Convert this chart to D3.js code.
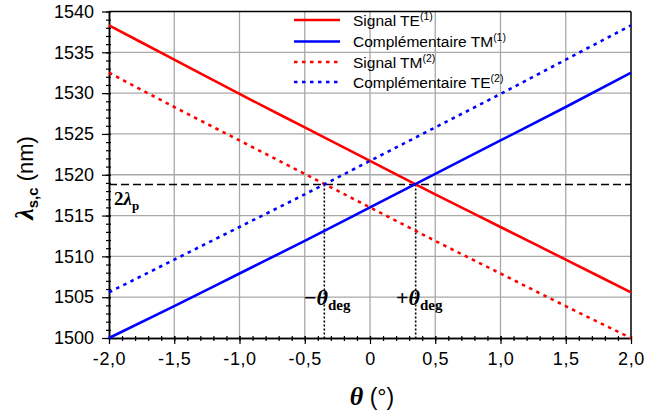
<!DOCTYPE html>
<html><head><meta charset="utf-8">
<script src="https://cdn.jsdelivr.net/npm/d3@7"></script>
<style>body{margin:0;background:#fff}svg{display:block}</style>
</head><body>
<svg id="c" width="646" height="412"></svg>
<script>
const theta = [-2, -1.5, -1, -0.5, 0, 0.5, 1, 1.5, 2];
const signalTE1 = [1538.3, 1534.1, 1529.9, 1525.8, 1521.7, 1517.6, 1513.6, 1509.6, 1505.6];
const complTM1  = [1500.0, 1503.9, 1507.9, 1511.9, 1516.0, 1520.1, 1524.2, 1528.3, 1532.5];
const signalTM2 = [1532.5, 1528.3, 1524.2, 1520.1, 1516.0, 1511.9, 1507.9, 1503.9, 1500.0];
const complTE2  = [1505.6, 1509.6, 1513.6, 1517.6, 1521.7, 1525.8, 1529.9, 1534.1, 1538.3];
const xTicks = [-2, -1.5, -1, -0.5, 0, 0.5, 1, 1.5, 2];
const xTickLabels = ["-2,0", "-1,5", "-1,0", "-0,5", "0", "0,5", "1,0", "1,5", "2,0"];
const yTicks = [1500, 1505, 1510, 1515, 1520, 1525, 1530, 1535, 1540];
const twoLambdaP = 1518.8;
const thetaDeg = 0.35;
const seriesNames = ["Signal TE", "Complémentaire TM", "Signal TM", "Complémentaire TE"];
const seriesSup = ["(1)", "(1)", "(2)", "(2)"];

const svg = d3.select("#c");
const L = 109, R = 631, T = 11.5, B = 338;
const x = d3.scaleLinear().domain([-2, 2]).range([L, R]);
const y = d3.scaleLinear().domain([1500, 1540]).range([B, T]);
const sans = "Liberation Sans, Arial, sans-serif";
const serif = "Liberation Serif, Times New Roman, serif";

// grid
const g = svg.append("g");
g.selectAll(".gx").data(xTicks.slice(1, -1)).join("line")
  .attr("x1", d => x(d)).attr("x2", d => x(d)).attr("y1", T).attr("y2", B)
  .attr("stroke", "#a8a8a8").attr("stroke-width", 1.3);
g.selectAll(".gy").data(yTicks.slice(1, -1)).join("line")
  .attr("y1", d => y(d)).attr("y2", d => y(d)).attr("x1", L).attr("x2", R)
  .attr("stroke", "#a8a8a8").attr("stroke-width", 1.3);

// axes
const fmtX = d => xTickLabels[xTicks.indexOf(d)];
const xAxis = d3.axisBottom(x).tickValues(xTicks).tickFormat(fmtX).tickSizeInner(6).tickSizeOuter(0).tickPadding(8);
const xMinor = d3.axisBottom(x).ticks(40).tickFormat("").tickSizeInner(3).tickSizeOuter(0);
const yAxis = d3.axisLeft(y).tickValues(yTicks).tickFormat(d3.format("d")).tickSizeInner(7).tickSizeOuter(0).tickPadding(8);
const yMinor = d3.axisLeft(y).ticks(40).tickFormat("").tickSizeInner(3).tickSizeOuter(0);

function styleAxis(sel) {
  sel.select(".domain").attr("stroke", "#000").attr("stroke-width", 1.5);
  sel.selectAll(".tick line").attr("stroke", "#000").attr("stroke-width", 1.2);
  sel.selectAll("text").attr("font-family", sans).attr("font-size", 18).attr("fill", "#000");
}
svg.append("g").attr("transform", `translate(0,${B})`).call(xMinor).call(styleAxis)
  .selectAll(".tick line").attr("y1", -2);
const xg = svg.append("g").attr("transform", `translate(0,${B})`).call(xAxis).call(styleAxis);
xg.selectAll(".tick line").attr("y1", -2);
xg.selectAll("text").attr("letter-spacing", 0.6);
svg.append("g").attr("transform", `translate(${L},0)`).call(yMinor).call(styleAxis)
  .selectAll(".tick line").attr("x1", 2);
const yg = svg.append("g").attr("transform", `translate(${L},0)`).call(yAxis).call(styleAxis);
yg.selectAll(".tick line").attr("x1", 2);
// frame top/right
svg.append("line").attr("x1", L).attr("x2", R).attr("y1", T).attr("y2", T).attr("stroke", "#000").attr("stroke-width", 1.5);
svg.append("line").attr("x1", R).attr("x2", R).attr("y1", T).attr("y2", B).attr("stroke", "#000").attr("stroke-width", 1.5);

// reference lines
svg.append("line").attr("x1", L).attr("x2", R).attr("y1", y(twoLambdaP)).attr("y2", y(twoLambdaP))
  .attr("stroke", "#000").attr("stroke-width", 1.6).attr("stroke-dasharray", "8,4");
[-thetaDeg, thetaDeg].forEach(t => {
  svg.append("line").attr("x1", x(t)).attr("x2", x(t)).attr("y1", y(twoLambdaP)).attr("y2", B)
    .attr("stroke", "#000").attr("stroke-width", 1.6).attr("stroke-dasharray", "2,2");
});

// series
const series = [
  {v: signalTE1, c: "#ff0000", dash: null},
  {v: complTM1, c: "#0000ff", dash: null},
  {v: signalTM2, c: "#ff0000", dash: "3.5,4.5"},
  {v: complTE2, c: "#0000ff", dash: "3.5,4.5"}
];
const line = d3.line().x((d, i) => x(theta[i])).y(d => y(d)).curve(d3.curveMonotoneX);
series.forEach(s => {
  svg.append("path").attr("d", line(s.v)).attr("fill", "none").attr("stroke", s.c)
    .attr("stroke-width", 2.6).attr("stroke-dasharray", s.dash);
});

// legend
const lg = svg.append("g");
const rowsY = [20, 41.5, 62, 82];
series.forEach((s, i) => {
  lg.append("line").attr("x1", 294).attr("x2", 340).attr("y1", rowsY[i]).attr("y2", rowsY[i])
    .attr("stroke", s.c).attr("stroke-width", 2.6).attr("stroke-dasharray", s.dash);
  const t = lg.append("text").attr("x", 353).attr("y", rowsY[i] + 5.5)
    .attr("font-family", sans).attr("font-size", 15.5).attr("fill", "#000");
  t.append("tspan").text(seriesNames[i]);
  t.append("tspan").attr("dy", -6).attr("font-size", 10.5).text(seriesSup[i]);
});

// annotations
const a1 = svg.append("text").attr("x", 114).attr("y", 205).attr("font-family", serif)
  .attr("font-size", 19).attr("font-weight", "bold").attr("fill", "#000");
a1.append("tspan").text("2");
a1.append("tspan").attr("font-style", "italic").text("λ");
a1.append("tspan").attr("dy", 5).attr("font-size", 13).text("p");

function thetaLabel(xPos, sign) {
  const t = svg.append("text").attr("x", xPos).attr("y", 305).attr("font-family", serif)
    .attr("font-size", 22).attr("font-weight", "bold").attr("fill", "#000");
  t.append("tspan").text(sign);
  t.append("tspan").attr("font-style", "italic").text("θ");
  t.append("tspan").attr("dy", 5).attr("font-size", 15).text("deg");
}
thetaLabel(304, "−");
thetaLabel(396, "+");

// axis titles
const xt = svg.append("text").attr("x", 372).attr("y", 405).attr("text-anchor", "middle")
  .attr("font-size", 23).attr("fill", "#000");
xt.append("tspan").attr("font-family", serif).attr("font-weight", "bold").attr("font-style", "italic").attr("font-size", 26).text("θ");
xt.append("tspan").attr("font-family", sans).text(" (°)");

const yt = svg.append("text").attr("transform", "translate(33,178) rotate(-90)").attr("text-anchor", "middle")
  .attr("font-size", 22).attr("fill", "#000");
yt.append("tspan").attr("font-family", serif).attr("font-weight", "bold").attr("font-style", "italic").attr("font-size", 26).text("λ");
yt.append("tspan").attr("font-family", sans).attr("font-weight", "bold")
  .attr("font-size", 15).attr("dy", 5).text("s,c");
yt.append("tspan").attr("font-family", sans).attr("dy", -5).text(" (nm)");
</script>
</body></html>
